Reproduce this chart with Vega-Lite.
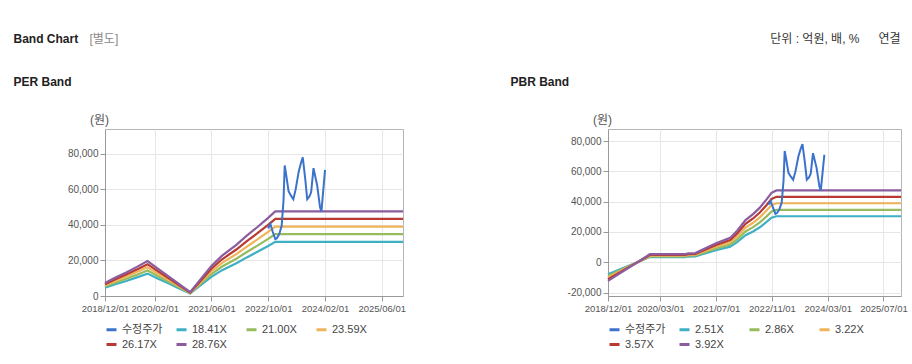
{
  "$schema": "https://vega.github.io/schema/vega-lite/v6.json",
  "background": "white",
  "padding": {"left": 12, "top": 31, "right": 4, "bottom": 4},
  "datasets": {
    "price": [
      {"date": "2022-10-01", "series": "수정주가", "value": 38000},
      {"date": "2022-10-20", "series": "수정주가", "value": 40500},
      {"date": "2022-11-10", "series": "수정주가", "value": 36000},
      {"date": "2022-12-01", "series": "수정주가", "value": 32000},
      {"date": "2022-12-15", "series": "수정주가", "value": 32500},
      {"date": "2023-01-05", "series": "수정주가", "value": 35000},
      {"date": "2023-01-25", "series": "수정주가", "value": 39500},
      {"date": "2023-02-10", "series": "수정주가", "value": 54000},
      {"date": "2023-02-20", "series": "수정주가", "value": 73500},
      {"date": "2023-03-05", "series": "수정주가", "value": 68000},
      {"date": "2023-03-25", "series": "수정주가", "value": 59000},
      {"date": "2023-04-15", "series": "수정주가", "value": 56500},
      {"date": "2023-05-05", "series": "수정주가", "value": 54500},
      {"date": "2023-05-25", "series": "수정주가", "value": 60000},
      {"date": "2023-06-20", "series": "수정주가", "value": 70000},
      {"date": "2023-07-10", "series": "수정주가", "value": 75000},
      {"date": "2023-07-25", "series": "수정주가", "value": 78000},
      {"date": "2023-08-15", "series": "수정주가", "value": 66000},
      {"date": "2023-09-01", "series": "수정주가", "value": 54500},
      {"date": "2023-09-20", "series": "수정주가", "value": 56000},
      {"date": "2023-10-05", "series": "수정주가", "value": 58500},
      {"date": "2023-10-25", "series": "수정주가", "value": 72000},
      {"date": "2023-11-10", "series": "수정주가", "value": 67000},
      {"date": "2023-11-25", "series": "수정주가", "value": 62500},
      {"date": "2023-12-20", "series": "수정주가", "value": 50000},
      {"date": "2024-01-01", "series": "수정주가", "value": 47500},
      {"date": "2024-01-15", "series": "수정주가", "value": 58000},
      {"date": "2024-02-01", "series": "수정주가", "value": 71000}
    ],
    "per": [
      {"date": "2018-12-01", "series": "18.41X", "value": 4695},
      {"date": "2018-12-01", "series": "21.00X", "value": 5355},
      {"date": "2018-12-01", "series": "23.59X", "value": 6015},
      {"date": "2018-12-01", "series": "26.17X", "value": 6673},
      {"date": "2018-12-01", "series": "28.76X", "value": 7334},
      {"date": "2019-03-01", "series": "18.41X", "value": 6628},
      {"date": "2019-03-01", "series": "21.00X", "value": 7560},
      {"date": "2019-03-01", "series": "23.59X", "value": 8492},
      {"date": "2019-03-01", "series": "26.17X", "value": 9421},
      {"date": "2019-03-01", "series": "28.76X", "value": 10354},
      {"date": "2019-06-01", "series": "18.41X", "value": 8469},
      {"date": "2019-06-01", "series": "21.00X", "value": 9660},
      {"date": "2019-06-01", "series": "23.59X", "value": 10851},
      {"date": "2019-06-01", "series": "26.17X", "value": 12038},
      {"date": "2019-06-01", "series": "28.76X", "value": 13230},
      {"date": "2019-09-01", "series": "18.41X", "value": 10494},
      {"date": "2019-09-01", "series": "21.00X", "value": 11970},
      {"date": "2019-09-01", "series": "23.59X", "value": 13446},
      {"date": "2019-09-01", "series": "26.17X", "value": 14917},
      {"date": "2019-09-01", "series": "28.76X", "value": 16393},
      {"date": "2019-12-01", "series": "18.41X", "value": 12611},
      {"date": "2019-12-01", "series": "21.00X", "value": 14385},
      {"date": "2019-12-01", "series": "23.59X", "value": 16159},
      {"date": "2019-12-01", "series": "26.17X", "value": 17926},
      {"date": "2019-12-01", "series": "28.76X", "value": 19701},
      {"date": "2020-03-01", "series": "18.41X", "value": 9757},
      {"date": "2020-03-01", "series": "21.00X", "value": 11130},
      {"date": "2020-03-01", "series": "23.59X", "value": 12503},
      {"date": "2020-03-01", "series": "26.17X", "value": 13870},
      {"date": "2020-03-01", "series": "28.76X", "value": 15243},
      {"date": "2020-06-01", "series": "18.41X", "value": 6996},
      {"date": "2020-06-01", "series": "21.00X", "value": 7980},
      {"date": "2020-06-01", "series": "23.59X", "value": 8964},
      {"date": "2020-06-01", "series": "26.17X", "value": 9945},
      {"date": "2020-06-01", "series": "28.76X", "value": 10929},
      {"date": "2020-09-01", "series": "18.41X", "value": 4142},
      {"date": "2020-09-01", "series": "21.00X", "value": 4725},
      {"date": "2020-09-01", "series": "23.59X", "value": 5308},
      {"date": "2020-09-01", "series": "26.17X", "value": 5888},
      {"date": "2020-09-01", "series": "28.76X", "value": 6471},
      {"date": "2020-12-01", "series": "18.41X", "value": 1381},
      {"date": "2020-12-01", "series": "21.00X", "value": 1575},
      {"date": "2020-12-01", "series": "23.59X", "value": 1769},
      {"date": "2020-12-01", "series": "26.17X", "value": 1963},
      {"date": "2020-12-01", "series": "28.76X", "value": 2157},
      {"date": "2021-03-01", "series": "18.41X", "value": 6075},
      {"date": "2021-03-01", "series": "21.00X", "value": 6930},
      {"date": "2021-03-01", "series": "23.59X", "value": 7785},
      {"date": "2021-03-01", "series": "26.17X", "value": 8636},
      {"date": "2021-03-01", "series": "28.76X", "value": 9491},
      {"date": "2021-06-01", "series": "18.41X", "value": 10770},
      {"date": "2021-06-01", "series": "21.00X", "value": 12285},
      {"date": "2021-06-01", "series": "23.59X", "value": 13800},
      {"date": "2021-06-01", "series": "26.17X", "value": 15309},
      {"date": "2021-06-01", "series": "28.76X", "value": 16825},
      {"date": "2021-09-01", "series": "18.41X", "value": 14544},
      {"date": "2021-09-01", "series": "21.00X", "value": 16590},
      {"date": "2021-09-01", "series": "23.59X", "value": 18636},
      {"date": "2021-09-01", "series": "26.17X", "value": 20674},
      {"date": "2021-09-01", "series": "28.76X", "value": 22720},
      {"date": "2022-01-01", "series": "18.41X", "value": 18410},
      {"date": "2022-01-01", "series": "21.00X", "value": 21000},
      {"date": "2022-01-01", "series": "23.59X", "value": 23590},
      {"date": "2022-01-01", "series": "26.17X", "value": 26170},
      {"date": "2022-01-01", "series": "28.76X", "value": 28760},
      {"date": "2022-04-01", "series": "18.41X", "value": 21724},
      {"date": "2022-04-01", "series": "21.00X", "value": 24780},
      {"date": "2022-04-01", "series": "23.59X", "value": 27836},
      {"date": "2022-04-01", "series": "26.17X", "value": 30881},
      {"date": "2022-04-01", "series": "28.76X", "value": 33937},
      {"date": "2022-07-01", "series": "18.41X", "value": 24854},
      {"date": "2022-07-01", "series": "21.00X", "value": 28350},
      {"date": "2022-07-01", "series": "23.59X", "value": 31847},
      {"date": "2022-07-01", "series": "26.17X", "value": 35330},
      {"date": "2022-07-01", "series": "28.76X", "value": 38826},
      {"date": "2022-10-01", "series": "18.41X", "value": 28167},
      {"date": "2022-10-01", "series": "21.00X", "value": 32130},
      {"date": "2022-10-01", "series": "23.59X", "value": 36093},
      {"date": "2022-10-01", "series": "26.17X", "value": 40040},
      {"date": "2022-10-01", "series": "28.76X", "value": 44003},
      {"date": "2022-12-01", "series": "18.41X", "value": 30505},
      {"date": "2022-12-01", "series": "21.00X", "value": 34797},
      {"date": "2022-12-01", "series": "23.59X", "value": 39089},
      {"date": "2022-12-01", "series": "26.17X", "value": 43364},
      {"date": "2022-12-01", "series": "28.76X", "value": 47655},
      {"date": "2025-12-01", "series": "18.41X", "value": 30505},
      {"date": "2025-12-01", "series": "21.00X", "value": 34797},
      {"date": "2025-12-01", "series": "23.59X", "value": 39089},
      {"date": "2025-12-01", "series": "26.17X", "value": 43364},
      {"date": "2025-12-01", "series": "28.76X", "value": 47655}
    ],
    "pbr": [
      {"date": "2018-12-01", "series": "2.51X", "value": -7907},
      {"date": "2018-12-01", "series": "2.86X", "value": -9009},
      {"date": "2018-12-01", "series": "3.22X", "value": -10143},
      {"date": "2018-12-01", "series": "3.57X", "value": -11246},
      {"date": "2018-12-01", "series": "3.92X", "value": -12348},
      {"date": "2019-04-01", "series": "2.51X", "value": -4142},
      {"date": "2019-04-01", "series": "2.86X", "value": -4719},
      {"date": "2019-04-01", "series": "3.22X", "value": -5313},
      {"date": "2019-04-01", "series": "3.57X", "value": -5891},
      {"date": "2019-04-01", "series": "3.92X", "value": -6468},
      {"date": "2019-08-15", "series": "2.51X", "value": 0},
      {"date": "2019-08-15", "series": "2.86X", "value": 0},
      {"date": "2019-08-15", "series": "3.22X", "value": 0},
      {"date": "2019-08-15", "series": "3.57X", "value": 0},
      {"date": "2019-08-15", "series": "3.92X", "value": 0},
      {"date": "2019-12-01", "series": "2.51X", "value": 3389},
      {"date": "2019-12-01", "series": "2.86X", "value": 3861},
      {"date": "2019-12-01", "series": "3.22X", "value": 4347},
      {"date": "2019-12-01", "series": "3.57X", "value": 4820},
      {"date": "2019-12-01", "series": "3.92X", "value": 5292},
      {"date": "2020-10-01", "series": "2.51X", "value": 3389},
      {"date": "2020-10-01", "series": "2.86X", "value": 3861},
      {"date": "2020-10-01", "series": "3.22X", "value": 4347},
      {"date": "2020-10-01", "series": "3.57X", "value": 4820},
      {"date": "2020-10-01", "series": "3.92X", "value": 5292},
      {"date": "2020-11-01", "series": "2.51X", "value": 3765},
      {"date": "2020-11-01", "series": "2.86X", "value": 4290},
      {"date": "2020-11-01", "series": "3.22X", "value": 4830},
      {"date": "2020-11-01", "series": "3.57X", "value": 5355},
      {"date": "2020-11-01", "series": "3.92X", "value": 5880},
      {"date": "2021-01-01", "series": "2.51X", "value": 3891},
      {"date": "2021-01-01", "series": "2.86X", "value": 4433},
      {"date": "2021-01-01", "series": "3.22X", "value": 4991},
      {"date": "2021-01-01", "series": "3.57X", "value": 5534},
      {"date": "2021-01-01", "series": "3.92X", "value": 6076},
      {"date": "2021-07-01", "series": "2.51X", "value": 8032},
      {"date": "2021-07-01", "series": "2.86X", "value": 9152},
      {"date": "2021-07-01", "series": "3.22X", "value": 10304},
      {"date": "2021-07-01", "series": "3.57X", "value": 11424},
      {"date": "2021-07-01", "series": "3.92X", "value": 12544},
      {"date": "2021-11-01", "series": "2.51X", "value": 10291},
      {"date": "2021-11-01", "series": "2.86X", "value": 11726},
      {"date": "2021-11-01", "series": "3.22X", "value": 13202},
      {"date": "2021-11-01", "series": "3.57X", "value": 14637},
      {"date": "2021-11-01", "series": "3.92X", "value": 16072},
      {"date": "2022-01-01", "series": "2.51X", "value": 13303},
      {"date": "2022-01-01", "series": "2.86X", "value": 15158},
      {"date": "2022-01-01", "series": "3.22X", "value": 17066},
      {"date": "2022-01-01", "series": "3.57X", "value": 18921},
      {"date": "2022-01-01", "series": "3.92X", "value": 20776},
      {"date": "2022-03-15", "series": "2.51X", "value": 17821},
      {"date": "2022-03-15", "series": "2.86X", "value": 20306},
      {"date": "2022-03-15", "series": "3.22X", "value": 22862},
      {"date": "2022-03-15", "series": "3.57X", "value": 25347},
      {"date": "2022-03-15", "series": "3.92X", "value": 27832},
      {"date": "2022-05-20", "series": "2.51X", "value": 20331},
      {"date": "2022-05-20", "series": "2.86X", "value": 23166},
      {"date": "2022-05-20", "series": "3.22X", "value": 26082},
      {"date": "2022-05-20", "series": "3.57X", "value": 28917},
      {"date": "2022-05-20", "series": "3.92X", "value": 31752},
      {"date": "2022-07-18", "series": "2.51X", "value": 23092},
      {"date": "2022-07-18", "series": "2.86X", "value": 26312},
      {"date": "2022-07-18", "series": "3.22X", "value": 29624},
      {"date": "2022-07-18", "series": "3.57X", "value": 32844},
      {"date": "2022-07-18", "series": "3.92X", "value": 36064},
      {"date": "2022-09-15", "series": "2.51X", "value": 26606},
      {"date": "2022-09-15", "series": "2.86X", "value": 30316},
      {"date": "2022-09-15", "series": "3.22X", "value": 34132},
      {"date": "2022-09-15", "series": "3.57X", "value": 37842},
      {"date": "2022-09-15", "series": "3.92X", "value": 41552},
      {"date": "2022-10-28", "series": "2.51X", "value": 29367},
      {"date": "2022-10-28", "series": "2.86X", "value": 33462},
      {"date": "2022-10-28", "series": "3.22X", "value": 37674},
      {"date": "2022-10-28", "series": "3.57X", "value": 41769},
      {"date": "2022-10-28", "series": "3.92X", "value": 45864},
      {"date": "2022-12-10", "series": "2.51X", "value": 30371},
      {"date": "2022-12-10", "series": "2.86X", "value": 34606},
      {"date": "2022-12-10", "series": "3.22X", "value": 38962},
      {"date": "2022-12-10", "series": "3.57X", "value": 43197},
      {"date": "2022-12-10", "series": "3.92X", "value": 47432},
      {"date": "2025-12-01", "series": "2.51X", "value": 30371},
      {"date": "2025-12-01", "series": "2.86X", "value": 34606},
      {"date": "2025-12-01", "series": "3.22X", "value": 38962},
      {"date": "2025-12-01", "series": "3.57X", "value": 43197},
      {"date": "2025-12-01", "series": "3.92X", "value": 47432}
    ]
  },
  "hconcat": [
    {
      "width": 298,
      "height": 167,
      "resolve": {"scale": {"x": "independent", "y": "independent"}},
      "layer": [
        {
          "data": {"name": "per"},
          "mark": {"type": "line", "strokeWidth": 2.2},
          "encoding": {
            "x": {
              "field": "date", "type": "temporal",
              "scale": {"type": "utc", "nice": false, "domain": [{"year": 2018, "month": 12, "date": 1, "utc": true}, {"year": 2025, "month": 12, "date": 1, "utc": true}]},
              "axis": {
                "orient": "bottom",
                "values": [
                  {"year": 2018, "month": 12, "date": 1, "utc": true},
                  {"year": 2020, "month": 2, "date": 1, "utc": true},
                  {"year": 2021, "month": 6, "date": 1, "utc": true},
                  {"year": 2022, "month": 10, "date": 1, "utc": true},
                  {"year": 2024, "month": 2, "date": 1, "utc": true},
                  {"year": 2025, "month": 6, "date": 1, "utc": true}
                ],
                "format": "%Y/%m/%d",
                "labelFontSize": 9.5,
                "title": "[별도]",
                "titleX": -16, "titleY": -258, "titleAlign": "left", "titleBaseline": "middle",
                "titleColor": "#888888", "titleFontWeight": "normal", "titleFontSize": 12
              }
            },
            "y": {
              "field": "value", "type": "quantitative",
              "scale": {"domain": [0, 94000], "nice": false, "zero": false},
              "axis": {
                "values": [0, 20000, 40000, 60000, 80000],
                "format": ",d",
                "title": "(원)",
                "titleAngle": 0, "titleX": -6, "titleY": -10, "titleAlign": "center", "titleBaseline": "middle",
                "titleColor": "#555555", "titleFontWeight": "normal", "titleFontSize": 12
              }
            },
            "color": {
              "field": "series", "type": "nominal",
              "scale": {
                "domain": ["수정주가", "18.41X", "21.00X", "23.59X", "26.17X", "28.76X"],
                "range": ["#3b73cc", "#3fb0c4", "#97bb5d", "#efb45a", "#b83a32", "#8b5c9e"]
              },
              "legend": {"title": null}
            }
          }
        },
        {
          "data": {"name": "price"},
          "mark": {"type": "line", "strokeWidth": 2},
          "encoding": {
            "x": {
              "field": "date", "type": "temporal",
              "scale": {"type": "utc", "nice": false, "domain": [{"year": 2018, "month": 12, "date": 1, "utc": true}, {"year": 2025, "month": 12, "date": 1, "utc": true}]},
              "axis": {
                "orient": "top", "labels": false, "ticks": false, "domain": false, "grid": false,
                "title": "PER Band",
                "titleX": -92, "titleY": -48, "titleAlign": "left", "titleBaseline": "middle",
                "titleColor": "#222222", "titleFontWeight": "bold", "titleFontSize": 12
              }
            },
            "y": {
              "field": "value", "type": "quantitative",
              "scale": {"domain": [0, 94000], "nice": false, "zero": false},
              "axis": {
                "orient": "right", "labels": false, "ticks": false, "domain": false, "grid": false,
                "title": "Band Chart",
                "titleAngle": 0, "titleX": -390, "titleY": -91, "titleAlign": "left", "titleBaseline": "middle",
                "titleColor": "#222222", "titleFontWeight": "bold", "titleFontSize": 12
              }
            },
            "color": {"field": "series", "type": "nominal"}
          }
        }
      ]
    },
    {
      "width": 293,
      "height": 167,
      "resolve": {"scale": {"x": "independent", "y": "independent"}},
      "layer": [
        {
          "data": {"name": "pbr"},
          "mark": {"type": "line", "strokeWidth": 2.2},
          "encoding": {
            "x": {
              "field": "date", "type": "temporal",
              "scale": {"type": "utc", "nice": false, "domain": [{"year": 2018, "month": 12, "date": 1, "utc": true}, {"year": 2025, "month": 12, "date": 1, "utc": true}]},
              "axis": {
                "orient": "bottom",
                "values": [
                  {"year": 2018, "month": 12, "date": 1, "utc": true},
                  {"year": 2020, "month": 3, "date": 1, "utc": true},
                  {"year": 2021, "month": 7, "date": 1, "utc": true},
                  {"year": 2022, "month": 11, "date": 1, "utc": true},
                  {"year": 2024, "month": 3, "date": 1, "utc": true},
                  {"year": 2025, "month": 7, "date": 1, "utc": true}
                ],
                "format": "%Y/%m/%d",
                "labelFontSize": 9.5,
                "title": "연결",
                "titleX": 281, "titleY": -258, "titleAlign": "center", "titleBaseline": "middle",
                "titleColor": "#333333", "titleFontWeight": "normal", "titleFontSize": 12
              }
            },
            "y": {
              "field": "value", "type": "quantitative",
              "scale": {"domain": [-22300, 88000], "nice": false, "zero": false},
              "axis": {
                "values": [-20000, 0, 20000, 40000, 60000, 80000],
                "format": ",d",
                "title": "(원)",
                "titleAngle": 0, "titleX": -6, "titleY": -10, "titleAlign": "center", "titleBaseline": "middle",
                "titleColor": "#555555", "titleFontWeight": "normal", "titleFontSize": 12
              }
            },
            "color": {
              "field": "series", "type": "nominal",
              "scale": {
                "domain": ["수정주가", "2.51X", "2.86X", "3.22X", "3.57X", "3.92X"],
                "range": ["#3b73cc", "#3fb0c4", "#97bb5d", "#efb45a", "#b83a32", "#8b5c9e"]
              },
              "legend": {"title": null}
            }
          }
        },
        {
          "data": {"name": "price"},
          "mark": {"type": "line", "strokeWidth": 2},
          "encoding": {
            "x": {
              "field": "date", "type": "temporal",
              "scale": {"type": "utc", "nice": false, "domain": [{"year": 2018, "month": 12, "date": 1, "utc": true}, {"year": 2025, "month": 12, "date": 1, "utc": true}]},
              "axis": {
                "orient": "top", "labels": false, "ticks": false, "domain": false, "grid": false,
                "title": "PBR Band",
                "titleX": -98, "titleY": -48, "titleAlign": "left", "titleBaseline": "middle",
                "titleColor": "#222222", "titleFontWeight": "bold", "titleFontSize": 12
              }
            },
            "y": {
              "field": "value", "type": "quantitative",
              "scale": {"domain": [-22300, 88000], "nice": false, "zero": false},
              "axis": {
                "orient": "right", "labels": false, "ticks": false, "domain": false, "grid": false,
                "title": "단위 : 억원, 배, %",
                "titleAngle": 0, "titleX": -42, "titleY": -91, "titleAlign": "right", "titleBaseline": "middle",
                "titleColor": "#333333", "titleFontWeight": "normal", "titleFontSize": 12
              }
            },
            "color": {"field": "series", "type": "nominal"}
          }
        }
      ]
    }
  ],
  "spacing": 205,
  "bounds": "flush",
  "resolve": {"scale": {"color": "independent"}},
  "config": {
    "font": "Liberation Sans, Noto Sans CJK KR",
    "locale": {"number": {"decimal": ".", "thousands": ",", "grouping": [3], "currency": ["", ""], "minus": "-"}},
    "view": {"stroke": "#b5b5b5", "strokeWidth": 1},
    "axis": {
      "labelFont": "Liberation Sans, Noto Sans CJK KR",
      "titleFont": "Liberation Sans, Noto Sans CJK KR",
      "labelFontSize": 10,
      "labelColor": "#555555",
      "labelFlush": false,
      "labelOverlap": false,
      "labelBound": false,
      "labelPadding": 2,
      "tickSize": 5,
      "tickColor": "#999999",
      "domainColor": "#999999",
      "gridColor": "#e6e6e6",
      "grid": true
    },
    "legend": {
      "orient": "bottom",
      "direction": "horizontal",
      "columns": 4,
      "symbolType": "stroke",
      "symbolSize": 100,
      "symbolStrokeWidth": 3,
      "labelFont": "Liberation Sans, Noto Sans CJK KR",
      "labelFontSize": 11,
      "labelColor": "#444444",
      "labelOffset": 4,
      "columnPadding": 7,
      "rowPadding": 2,
      "gridAlign": "all",
      "offset": 10
    }
  }
}
